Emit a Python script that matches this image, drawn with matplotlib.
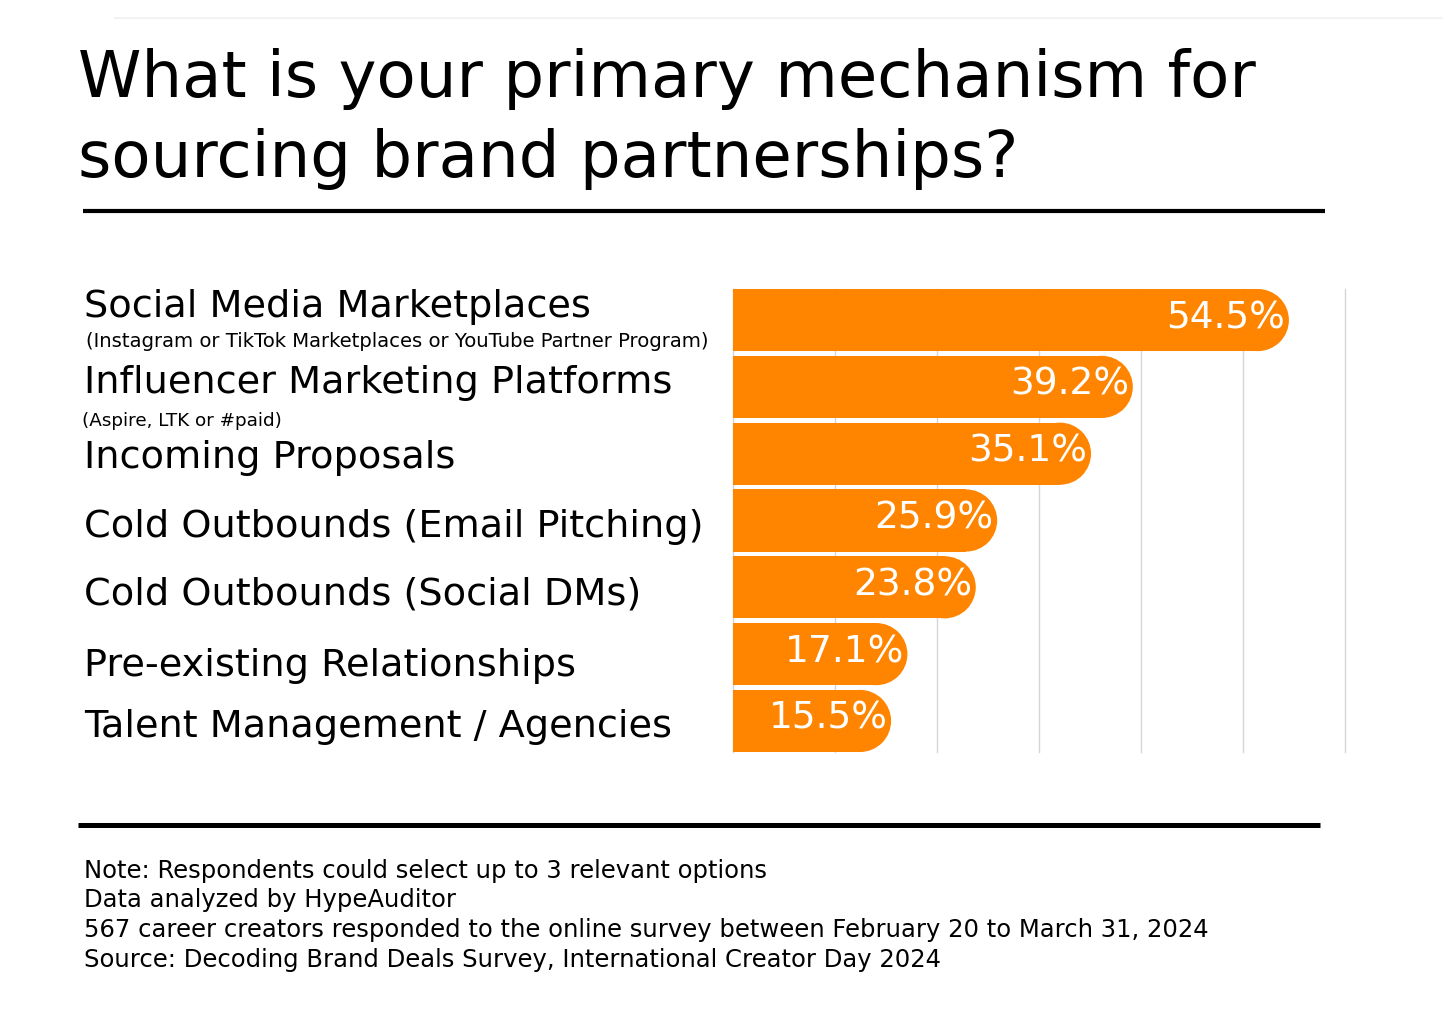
import matplotlib
matplotlib.use("Agg")
import matplotlib.pyplot as plt
from matplotlib.patches import Ellipse
from matplotlib.lines import Line2D

# 数据
title_lines = ["What is your primary mechanism for", "sourcing brand partnerships?"]
categories = [
    "Social Media Marketplaces",
    "Influencer Marketing Platforms",
    "Incoming Proposals",
    "Cold Outbounds (Email Pitching)",
    "Cold Outbounds (Social DMs)",
    "Pre-existing Relationships",
    "Talent Management / Agencies",
]
subtitles = [
    "(Instagram or TikTok Marketplaces or YouTube Partner Program)",
    "(Aspire, LTK or #paid)",
]
values = [54.5, 39.2, 35.1, 25.9, 23.8, 17.1, 15.5]
notes = [
    "Note: Respondents could select up to 3 relevant options",
    "Data analyzed by HypeAuditor",
    "567 career creators responded to the online survey between February 20 to March 31, 2024",
    "Source: Decoding Brand Deals Survey, International Creator Day 2024",
]

# 版式（像素坐标）
W, H = 1443, 1015
FONT = "DejaVu Sans"
ORANGE = "#ff8500"
label_base = [317, 393, 468, 537, 604, 676, 737]
sub_base = [347, 426]
sub_x = [86, 82]
sub_size = [14.1, 13.2]
ax_left, ax_right, ax_top, ax_bottom = 733, 1345, 289, 752
bar_h = 0.93
x_max = 60


def fx(x):
    return x / W


def fy(y):
    return 1 - y / H


fig = plt.figure(figsize=(W / 100, H / 100), dpi=100)
fig.patch.set_facecolor("white")

# 顶部浅灰线
fig.add_artist(Line2D([fx(115), fx(1443)], [fy(18), fy(18)], color="#f2f2f2", lw=1.5))

# 标题
for i, line in enumerate(title_lines):
    fig.text(fx(78), fy(97 + 80 * i), line, fontsize=46.2, family=FONT,
             va="baseline", ha="left", color="black")

fig.add_artist(Line2D([fx(83), fx(1325)], [fy(211), fy(211)], color="black", lw=3,
                      solid_capstyle="butt"))
fig.add_artist(Line2D([fx(78), fx(1320)], [fy(825), fy(825)], color="black", lw=3.6,
                      solid_capstyle="butt"))

# 条形图
ax = fig.add_axes([fx(ax_left), fy(ax_bottom), fx(ax_right) - fx(ax_left),
                   (ax_bottom - ax_top) / H])
n = len(values)
ys = list(range(n))
ax.set_xlim(0, x_max)
ax.set_ylim(n - 1 + bar_h / 2, -bar_h / 2)

# 右端半圆：把像素半径换算成数据坐标
px_per_y = (ax_bottom - ax_top) / (n - 1 + bar_h)
px_per_x = (ax_right - ax_left) / x_max
rx = bar_h / 2 * px_per_y / px_per_x

ax.barh(ys, [v - rx for v in values], height=bar_h, color=ORANGE, lw=0, zorder=2)
for y, v in zip(ys, values):
    ax.add_patch(Ellipse((v - rx, y), 2 * rx, bar_h, color=ORANGE, lw=0, zorder=2))
    ax.text(v - 0.35, y - 0.03, f"{v}%", ha="right", va="center", color="white",
            fontsize=27, family=FONT, zorder=3)

ax.set_xticks(range(0, x_max + 1, 10))
ax.grid(axis="x", color="#d6d6d6", lw=1)
for gl in ax.get_xgridlines():
    gl.set_clip_on(False)
ax.set_axisbelow(True)
ax.tick_params(length=0, labelbottom=False, labelleft=False)
for s in ax.spines.values():
    s.set_visible(False)

# 类别标签
for cat, yb in zip(categories, label_base):
    fig.text(fx(84), fy(yb), cat, fontsize=27.5, family=FONT, va="baseline", color="black")
for sub, yb, x, fs in zip(subtitles, sub_base, sub_x, sub_size):
    fig.text(fx(x), fy(yb), sub, fontsize=fs, family=FONT, va="baseline", color="black")

# 脚注
for i, note in enumerate(notes):
    fig.text(fx(84), fy(878 + 29.5 * i), note, fontsize=17.5, family=FONT,
             va="baseline", color="black")

fig.savefig("out.png", dpi=100)
